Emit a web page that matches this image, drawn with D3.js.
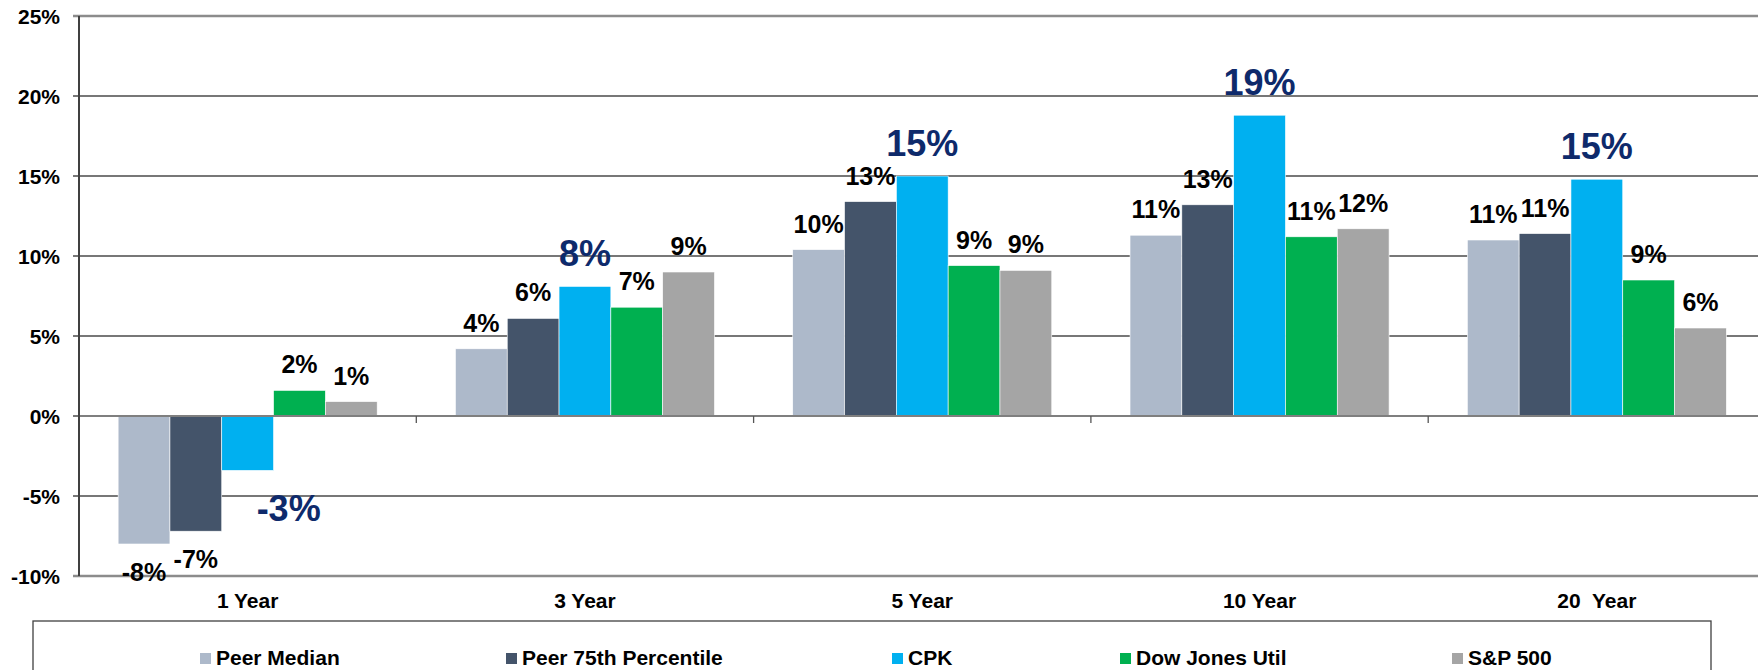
<!DOCTYPE html>
<html>
<head>
<meta charset="utf-8">
<script src="https://cdn.jsdelivr.net/npm/d3@7"></script>
<style>
  body { margin: 0; background: #fff; }
  text { font-family: "Liberation Sans", Arial, sans-serif; font-weight: bold; }
</style>
</head>
<body>
<svg width="1758" height="670"></svg>
<script>
var periods = ["1 Year", "3 Year", "5 Year", "10 Year", "20  Year"];
var series = ["Peer Median", "Peer 75th Percentile", "CPK", "Dow Jones Util", "S&P 500"];

// returns in percent, one array per series (same order as periods)
var peerMedian = [-8.0, 4.2, 10.4, 11.3, 11.0];
var peer75     = [-7.2, 6.1, 13.4, 13.2, 11.4];
var cpk        = [-3.4, 8.1, 15.0, 18.8, 14.8];
var dowUtil    = [1.6, 6.8, 9.4, 11.2, 8.5];
var sp500      = [0.9, 9.0, 9.1, 11.7, 5.5];

var yTicks = [-10, -5, 0, 5, 10, 15, 20, 25];

var colors = ["#adb9ca", "#44546a", "#00b0f0", "#00b050", "#a5a5a5"];
var values = [peerMedian, peer75, cpk, dowUtil, sp500];

var svg = d3.select("svg"),
    width = +svg.attr("width"),
    height = +svg.attr("height");

// note: "top" is taken by window.top, so plotTop/plotBottom
var plotLeft = 79, plotTop = 16, plotBottom = 576;
var band = 337.3;

var x0 = d3.scaleBand()
    .domain(periods)
    .range([plotLeft, plotLeft + band * periods.length]);

var x1 = d3.scaleBand()
    .domain(series)
    .range([x0.bandwidth() * 0.116, x0.bandwidth() * 0.884]);

var y = d3.scaleLinear()
    .domain([-10, 25])
    .range([plotBottom, plotTop]);

// gridlines
svg.append("g")
  .selectAll("line")
  .data(yTicks)
  .enter()
  .append("line")
    .attr("x1", plotLeft - 6)
    .attr("x2", width)
    .attr("y1", function(d) { return y(d); })
    .attr("y2", function(d) { return y(d); })
    .attr("stroke", function(d) { return (d == 25 || d == -10) ? "#8c8c8c" : "#4a4a4a"; })
    .attr("stroke-width", function(d) { return (d == 25 || d == -10) ? 2.5 : 1.3; });

// y tick labels
svg.append("g")
  .selectAll("text")
  .data(yTicks)
  .enter()
  .append("text")
    .attr("x", 60)
    .attr("y", function(d) { return y(d); })
    .attr("dy", "0.36em")
    .attr("text-anchor", "end")
    .style("font-size", "21px")
    .text(function(d) { return d + "%"; });

// bars
var groups = svg.append("g")
  .selectAll("g")
  .data(periods)
  .enter()
  .append("g")
    .attr("transform", function(d) { return "translate(" + x0(d) + ",0)"; });

var cells = groups.selectAll("rect")
  .data(function(p, i) { return series.map(function(s, j) { return {s: s, j: j, v: values[j][i]}; }); })
  .enter();

cells.append("rect")
    .attr("x", function(d) { return x1(d.s); })
    .attr("width", x1.bandwidth())
    .attr("y", function(d) { return y(Math.max(0, d.v)); })
    .attr("height", function(d) { return Math.abs(y(d.v) - y(0)); })
    .attr("fill", function(d) { return colors[d.j]; })
    .attr("stroke", "#ffffff")
    .attr("stroke-width", 0.6);

// zero line and axes
svg.append("line")
    .attr("x1", plotLeft).attr("x2", width)
    .attr("y1", y(0)).attr("y2", y(0))
    .attr("stroke", "#7f7f7f").attr("stroke-width", 2);

svg.append("g")
  .selectAll("line")
  .data(periods.slice(1))
  .enter()
  .append("line")
    .attr("x1", function(d) { return x0(d); })
    .attr("x2", function(d) { return x0(d); })
    .attr("y1", y(0))
    .attr("y2", y(0) + 7)
    .attr("stroke", "#555").attr("stroke-width", 1.3);

svg.append("line")
    .attr("x1", plotLeft).attr("x2", plotLeft)
    .attr("y1", plotTop).attr("y2", plotBottom)
    .attr("stroke", "#404040").attr("stroke-width", 2);

// data labels
cells.append("text")
    .attr("x", function(d) { return x1(d.s) + x1.bandwidth() / 2 + (d.j == 2 && d.v < 0 ? 41 : 0); })
    .attr("y", function(d) {
      var big = d.j == 2;
      if (d.v >= 0) return y(d.v) - (big ? 20 : 17);
      return y(d.v) + (big ? 51 : 37);
    })
    .attr("text-anchor", "middle")
    .style("font-size", function(d) { return d.j == 2 ? "36px" : "25px"; })
    .style("fill", function(d) { return d.j == 2 ? "#0e2a6b" : "#000"; })
    .text(function(d) { return Math.round(d.v) + "%"; });

// category labels
svg.append("g")
  .selectAll("text")
  .data(periods)
  .enter()
  .append("text")
    .attr("x", function(d) { return x0(d) + x0.bandwidth() / 2; })
    .attr("y", 608)
    .attr("text-anchor", "middle")
    .style("font-size", "21px")
    .style("white-space", "pre")
    .text(function(d) { return d; });

// legend
svg.append("rect")
    .attr("x", 33).attr("y", 621)
    .attr("width", 1678).attr("height", 80)
    .attr("fill", "none")
    .attr("stroke", "#404040").attr("stroke-width", 1.3);

var legendX = [200, 506, 892, 1120, 1452];

var items = svg.append("g")
  .selectAll("g")
  .data(series)
  .enter()
  .append("g")
    .attr("transform", function(d, i) { return "translate(" + legendX[i] + ",0)"; });

items.append("rect")
    .attr("y", 653)
    .attr("width", 11).attr("height", 11)
    .attr("fill", function(d, i) { return colors[i]; });

items.append("text")
    .attr("x", 16)
    .attr("y", 665)
    .style("font-size", "21px")
    .text(function(d) { return d; });
</script>
</body>
</html>
